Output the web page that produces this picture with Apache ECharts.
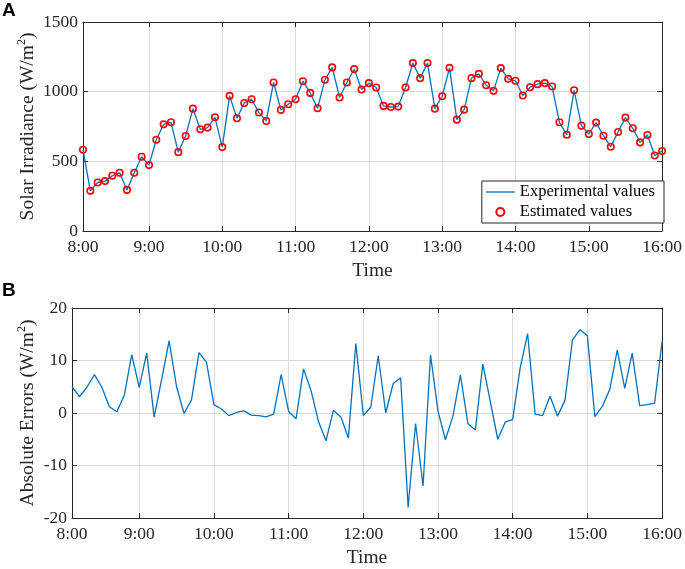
<!DOCTYPE html>
<html>
<head>
<meta charset="utf-8">
<title>Solar irradiance</title>
<script src="https://cdn.jsdelivr.net/npm/echarts@6/dist/echarts.min.js"></script>
<style>
  html, body { margin: 0; padding: 0; background: #fff; }
  #main { width: 685px; height: 569px; }
</style>
</head>
<body>
<div id="main"></div>
<script>
// tick labels on the time axis and the sample index they sit on
const timeLabels = ['8:00', '9:00', '10:00', '11:00', '12:00', '13:00', '14:00', '15:00', '16:00'];
const timeTickAt = [0, 9, 19, 29, 39, 49, 59, 69, 79];

// panel A: measured irradiance (W/m2)
const experimental = [
  583, 288, 348, 358, 396, 418, 295, 418, 533, 473,
  655, 766, 780, 566, 682, 878, 730, 742, 816, 602,
  970, 809, 919, 946, 850, 790, 1066, 869, 910, 946,
  1075, 991, 881, 1085, 1174, 958, 1066, 1162, 1015, 1061,
  1030, 898, 890, 893, 1030, 1205, 1097, 1205, 878, 967,
  1171, 799, 871, 1097, 1128, 1046, 1006, 1169, 1092, 1078,
  972, 1032, 1054, 1061, 1037, 780, 691, 1010, 756, 696,
  778, 684, 605, 710, 814, 737, 636, 689, 542, 574
];
// panel A: estimated irradiance (the circles sit on the line)
const estimated = [
  583, 288, 348, 358, 396, 418, 295, 418, 533, 473,
  655, 766, 780, 566, 682, 878, 730, 742, 816, 602,
  970, 809, 919, 946, 850, 790, 1066, 869, 910, 946,
  1075, 991, 881, 1085, 1174, 958, 1066, 1162, 1015, 1061,
  1030, 898, 890, 893, 1030, 1205, 1097, 1205, 878, 967,
  1171, 799, 871, 1097, 1128, 1046, 1006, 1169, 1092, 1078,
  972, 1032, 1054, 1061, 1037, 780, 691, 1010, 756, 696,
  778, 684, 605, 710, 814, 737, 636, 689, 542, 574
];
// panel B: absolute errors (W/m2)
const errors = [
  5.0, 3.1, 4.9, 7.3, 4.9, 1.2, 0.25, 3.4, 11.1, 4.9,
  11.4, -0.8, 6.4, 13.75, 5.0, -0.1, 2.5, 11.5, 9.7, 1.6,
  0.75, -0.5, 0.1, 0.4, -0.4, -0.5, -0.75, -0.2, 7.3, 0.3,
  -1.1, 8.4, 4.25, -1.6, -5.3, 0.5, -0.75, -4.75, 13.25, -0.5,
  1.1, 10.9, 0.0, 5.6, 6.7, -18.0, -2.0, -13.9, 11.1, 0.3,
  -5.1, -0.6, 7.2, -2.0, -3.25, 9.3, 2.2, -5.0, -1.75, -1.2,
  8.6, 15.1, -0.2, -0.5, 3.2, -0.6, 2.4, 13.9, 15.9, 14.7,
  -0.7, 1.25, 4.5, 12.0, 4.7, 11.4, 1.4, 1.6, 1.9, 13.6
];

const categories = experimental.map((v, i) => i);

const serif = 'Liberation Serif';
const axisColor = '#262626';
const gridColor = '#dcdcdc';
const blue = '#0072BD';

const isTick = (i) => timeTickAt.indexOf(i) >= 0;

// bottom time axis with labels, top one only closes the box
function timeAxis(gridIndex, pos) {
  const main = pos === 'bottom';
  return {
    type: 'category',
    gridIndex: gridIndex,
    position: pos,
    data: categories,
    boundaryGap: false,
    name: main ? 'Time' : '',
    nameLocation: 'middle',
    nameGap: 30,
    nameMoveOverlap: false,
    nameTextStyle: { fontFamily: serif, fontSize: 19.5, color: axisColor },
    axisLine: { onZero: false, lineStyle: { color: axisColor, width: 1 } },
    axisTick: { show: true, inside: true, length: 5, interval: (i) => isTick(i), lineStyle: { color: axisColor } },
    axisLabel: {
      show: main,
      interval: (i) => isTick(i),
      formatter: (v, i) => timeLabels[timeTickAt.indexOf(i)] || '',
      fontFamily: serif, fontSize: 17.5, color: axisColor, margin: 7
    },
    splitLine: { show: main, interval: (i) => isTick(i), lineStyle: { color: gridColor, width: 1 } }
  };
}

function valueAxis(gridIndex, pos, min, max, step, name, gap) {
  const main = pos === 'left';
  return {
    type: 'value',
    gridIndex: gridIndex,
    position: pos,
    min: min, max: max, interval: step,
    name: main ? name : '',
    nameLocation: 'middle',
    nameGap: gap,
    nameMoveOverlap: false,
    nameTextStyle: {
      fontFamily: serif, fontSize: 19.5, color: axisColor,
      rich: { sup: { fontFamily: serif, fontSize: 12, color: axisColor, padding: [0, 0, 12, 0] } }
    },
    axisLine: { show: true, onZero: false, lineStyle: { color: axisColor, width: 1 } },
    axisTick: { show: true, inside: true, length: 5, lineStyle: { color: axisColor } },
    axisLabel: {
      show: main, formatter: (v) => String(v),
      fontFamily: serif, fontSize: 17.5, color: axisColor, margin: 5
    },
    splitLine: { show: main, lineStyle: { color: gridColor, width: 1 } }
  };
}

const chart = echarts.init(document.getElementById('main'));

const option = {
  backgroundColor: '#fff',
  animation: false,
  graphic: [
    { type: 'text', left: 2, top: 1, style: { text: 'A', font: 'bold 19px "Liberation Sans"', fill: '#000' } },
    { type: 'text', left: 2, top: 281, style: { text: 'B', font: 'bold 19px "Liberation Sans"', fill: '#000' } }
  ],
  grid: [
    { left: 83, right: 21, top: 22, height: 209 },
    { left: 72, right: 21, top: 308, height: 214 }
  ],
  legend: {
    data: [
      { name: 'Experimental values', icon: 'path://M0,0 L28,0 L28,1.3 L0,1.3 Z' },
      { name: 'Estimated values', icon: 'circle' }
    ],
    orient: 'vertical',
    right: 21,
    top: 181,
    backgroundColor: '#fff',
    borderColor: axisColor,
    borderWidth: 1,
    borderRadius: 0,
    padding: [2, 9, 2, 4],
    itemWidth: 29,
    itemHeight: 8,
    itemGap: 2,
    textStyle: { fontFamily: serif, fontSize: 16.5, color: '#000', lineHeight: 18 }
  },
  xAxis: [
    timeAxis(0, 'bottom'),
    timeAxis(0, 'top'),
    timeAxis(1, 'bottom'),
    timeAxis(1, 'top')
  ],
  yAxis: [
    valueAxis(0, 'left', 0, 1500, 500, 'Solar Irradiance (W/m{sup|2})', 43),
    valueAxis(0, 'right', 0, 1500, 500, '', 0),
    valueAxis(1, 'left', -20, 20, 10, 'Absolute Errors (W/m{sup|2})', 32),
    valueAxis(1, 'right', -20, 20, 10, '', 0)
  ],
  series: [
    {
      name: 'Experimental values',
      type: 'line',
      xAxisIndex: 0,
      yAxisIndex: 0,
      data: experimental,
      symbol: 'none',
      lineStyle: { color: blue, width: 1.3 },
      itemStyle: { color: blue },
      z: 2
    },
    {
      name: 'Estimated values',
      type: 'scatter',
      xAxisIndex: 0,
      yAxisIndex: 0,
      data: estimated,
      symbol: 'circle',
      symbolSize: 6.5,
      itemStyle: { color: 'rgba(0,0,0,0)', borderColor: '#ff0000', borderWidth: 1.6, opacity: 1 },
      z: 3
    },
    {
      name: 'Absolute errors',
      type: 'line',
      xAxisIndex: 2,
      yAxisIndex: 2,
      data: errors,
      symbol: 'none',
      lineStyle: { color: blue, width: 1.3 },
      itemStyle: { color: blue }
    }
  ]
};

chart.setOption(option);
window.onresize = () => {
  chart.resize();
};
</script>
</body>
</html>
